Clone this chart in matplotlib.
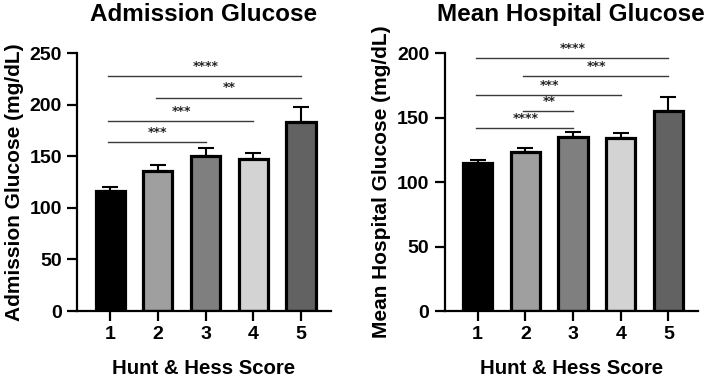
import matplotlib
matplotlib.use('Agg')
import matplotlib.pyplot as plt

plt.rcParams['font.family'] = ['Liberation Sans', 'DejaVu Sans']
plt.rcParams['font.weight'] = 'bold'

scores = [1, 2, 3, 4, 5]
score_labels = ['1', '2', '3', '4', '5']
bar_colors = ['#000000', '#9f9f9f', '#7f7f7f', '#d3d3d3', '#626262']

adm_mean = [116, 136, 150, 147, 183]
adm_err = [4, 6, 8, 6, 15]
adm_sig = [(1, 5, 228, '****'), (2, 5, 207, '**'), (1, 4, 184, '***'), (1, 3, 164, '***')]

mhg_mean = [115, 123, 135, 134, 155]
mhg_err = [2.5, 3.5, 3.5, 4, 11]
mhg_sig = [(1, 5, 196, '****'), (2, 5, 182, '***'), (1, 4, 167.5, '***'),
           (2, 3, 155, '**'), (1, 3, 142, '****')]


def draw_panel(ax, means, errs, sigs, title, ylabel, ymax, ystep):
    ax.bar(scores, means, width=0.61, color=bar_colors, edgecolor='black', linewidth=2.3, zorder=2)
    ax.errorbar(scores, means, yerr=[[0] * len(errs), errs], fmt='none', ecolor='black',
                elinewidth=1.5, capsize=5.5, capthick=1.5, zorder=1)
    for x1, x2, y, label in sigs:
        ax.plot([x1 - 0.04, x2], [y, y], color='#3a3a3a', linewidth=1, zorder=3)
        ax.text((x1 + x2) / 2, y + ymax * 0.012, label, ha='center', va='bottom',
                fontsize=9, color='#222222', family='DejaVu Sans', fontweight='bold')
    ax.set_xlim(0.31, 5.62)
    ax.set_ylim(0, ymax)
    ax.set_yticks(range(0, ymax + 1, ystep))
    ax.set_xticks(scores)
    ax.set_xticklabels(score_labels)
    for s in ['top', 'right']:
        ax.spines[s].set_visible(False)
    for s in ['left', 'bottom']:
        ax.spines[s].set_linewidth(1.6)
    ax.tick_params(width=1.6, length=7, labelsize=14, pad=4)
    for lab in ax.get_xticklabels() + ax.get_yticklabels():
        lab.set_fontweight('bold')
    ax.set_title(title, fontsize=17.5, fontweight='bold', pad=23)
    ax.set_ylabel(ylabel, fontsize=15, fontweight='bold', labelpad=4)
    ax.set_xlabel('Hunt & Hess Score', fontsize=14.7, fontweight='bold', labelpad=11)


fig = plt.figure(figsize=(7.08, 3.77), dpi=100)
ax1 = fig.add_axes([0.109, 0.175, 0.358, 0.684])
ax2 = fig.add_axes([0.628, 0.175, 0.358, 0.684])

draw_panel(ax1, adm_mean, adm_err, adm_sig, 'Admission Glucose', 'Admission Glucose (mg/dL)', 250, 50)
draw_panel(ax2, mhg_mean, mhg_err, mhg_sig, 'Mean Hospital Glucose', 'Mean Hospital Glucose (mg/dL)', 200, 50)

fig.savefig('out.png', dpi=100)
